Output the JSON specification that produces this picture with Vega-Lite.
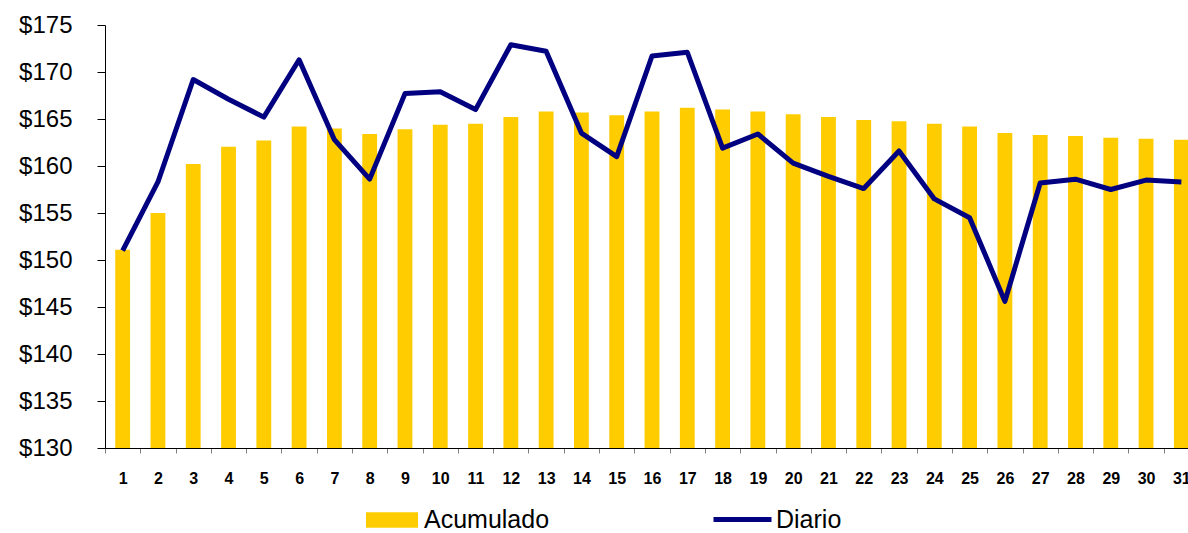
{
  "$schema": "https://vega.github.io/schema/vega-lite/v6.json",
  "width": 1083,
  "height": 423,
  "autosize": {"type": "none"},
  "padding": {"left": 105, "top": 25, "right": 0, "bottom": 85},
  "background": "white",
  "config": {"view": {"stroke": null}, "font": "Liberation Sans"},
  "data": {"values": [
    {"dia": 1, "acumulado": 151.1, "diario": 151.0},
    {"dia": 2, "acumulado": 155.0, "diario": 158.3},
    {"dia": 3, "acumulado": 160.2, "diario": 169.2},
    {"dia": 4, "acumulado": 162.05, "diario": 167.1},
    {"dia": 5, "acumulado": 162.7, "diario": 165.2},
    {"dia": 6, "acumulado": 164.2, "diario": 171.3},
    {"dia": 7, "acumulado": 164.0, "diario": 162.8},
    {"dia": 8, "acumulado": 163.4, "diario": 158.6},
    {"dia": 9, "acumulado": 163.9, "diario": 167.7},
    {"dia": 10, "acumulado": 164.4, "diario": 167.9},
    {"dia": 11, "acumulado": 164.5, "diario": 166.0},
    {"dia": 12, "acumulado": 165.2, "diario": 172.9},
    {"dia": 13, "acumulado": 165.8, "diario": 172.2},
    {"dia": 14, "acumulado": 165.7, "diario": 163.5},
    {"dia": 15, "acumulado": 165.4, "diario": 161.0},
    {"dia": 16, "acumulado": 165.8, "diario": 171.7},
    {"dia": 17, "acumulado": 166.2, "diario": 172.1},
    {"dia": 18, "acumulado": 166.0, "diario": 161.9},
    {"dia": 19, "acumulado": 165.8, "diario": 163.4},
    {"dia": 20, "acumulado": 165.5, "diario": 160.3},
    {"dia": 21, "acumulado": 165.2, "diario": 158.9},
    {"dia": 22, "acumulado": 164.9, "diario": 157.6},
    {"dia": 23, "acumulado": 164.75, "diario": 161.6},
    {"dia": 24, "acumulado": 164.5, "diario": 156.5},
    {"dia": 25, "acumulado": 164.2, "diario": 154.5},
    {"dia": 26, "acumulado": 163.5, "diario": 145.6},
    {"dia": 27, "acumulado": 163.3, "diario": 158.2},
    {"dia": 28, "acumulado": 163.2, "diario": 158.6},
    {"dia": 29, "acumulado": 163.0, "diario": 157.5},
    {"dia": 30, "acumulado": 162.9, "diario": 158.5},
    {"dia": 31, "acumulado": 162.8, "diario": 158.3}
  ]},
  "encoding": {
    "x": {
      "field": "dia",
      "type": "ordinal",
      "scale": {"range": [0, 1094], "paddingInner": 0, "paddingOuter": 0},
      "axis": {
        "title": null,
        "labelAngle": 0,
        "labelFontSize": 16,
        "labelFontWeight": "bold",
        "labelColor": "#000000",
        "labelPadding": 17,
        "tickBand": "extent",
        "tickSize": 5,
        "tickColor": "#808080",
        "domainColor": "#000000",
        "domainWidth": 1,
        "grid": false
      }
    }
  },
  "layer": [
    {
      "mark": {"type": "bar", "width": {"band": 0.42}},
      "encoding": {
        "y": {
          "field": "acumulado",
          "type": "quantitative",
          "scale": {"domain": [130, 175], "nice": false, "zero": false},
          "axis": {
            "title": null,
            "values": [130, 135, 140, 145, 150, 155, 160, 165, 170, 175],
            "labelExpr": "'$' + datum.value",
            "labelFontSize": 24,
            "labelColor": "#000000",
            "labelPadding": 25,
            "tickSize": 8,
            "tickColor": "#000000",
            "domainColor": "#000000",
            "grid": false
          }
        },
        "y2": {"datum": 130},
        "fill": {
          "datum": "Acumulado",
          "scale": {"range": ["#FFCC00"]},
          "legend": {
            "title": null,
            "orient": "none",
            "legendX": 261,
            "legendY": 469,
            "padding": 0,
            "symbolType": "M-1,-0.3L1,-0.3L1,0.3L-1,0.3Z",
            "symbolSize": 2704,
            "symbolStrokeWidth": 0,
            "labelFontSize": 25,
            "labelColor": "#000000",
            "labelOffset": 6
          }
        }
      }
    },
    {
      "mark": {"type": "line", "strokeWidth": 5, "strokeJoin": "round"},
      "encoding": {
        "y": {"field": "diario", "type": "quantitative"},
        "stroke": {
          "datum": "Diario",
          "scale": {"range": ["#000080"]},
          "legend": {
            "title": null,
            "orient": "none",
            "legendX": 606,
            "legendY": 463,
            "padding": 0,
            "symbolType": "stroke",
            "symbolSize": 3364,
            "symbolStrokeWidth": 5,
            "labelFontSize": 25,
            "labelColor": "#000000",
            "labelOffset": 2
          }
        }
      }
    }
  ]
}
